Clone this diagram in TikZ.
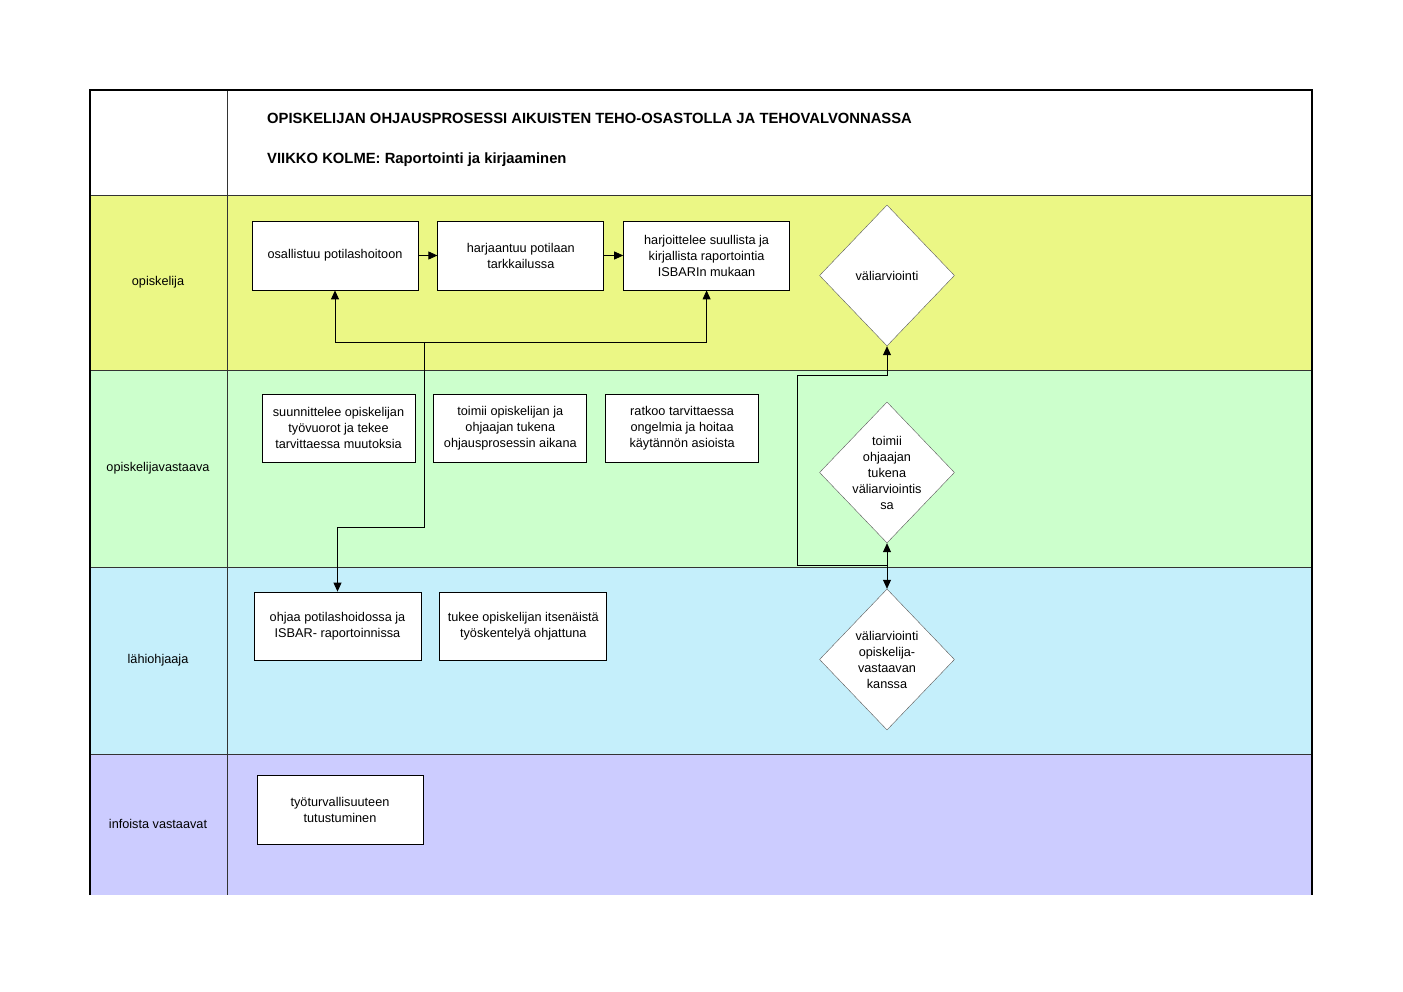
\documentclass[tikz,border=0pt]{standalone}
\usepackage{fontspec}
\setmainfont{Liberation Sans}
\usetikzlibrary{positioning,shapes.geometric,arrows.meta}
\definecolor{laneyellow}{RGB}{235,247,133}
\definecolor{lanegreen}{RGB}{204,255,204}
\definecolor{laneblue}{RGB}{197,239,251}
\definecolor{lanelilac}{RGB}{204,204,255}
\tikzset{
        >={Triangle[length=9pt,width=8pt]}, % filled arrow heads
        every node/.style={font=\fontsize{12.7}{16}\selectfont}, % Arial sized text
        task/.style={draw, thick, fill=white, align=center, inner sep=2pt, minimum width=166pt, minimum height=69pt},
        smalltask/.style={task, minimum width=153pt, minimum height=68pt},
        decision/.style={diamond, draw=gray!70!black, fill=white, inner sep=0pt, minimum width=135pt, minimum height=141pt},
        divider/.style={gray!40!black, line width=0.9pt},
        heading/.style={anchor=base west, inner sep=0pt, font=\fontsize{14.8}{18}\selectfont\bfseries},
    }
\begin{document}
\begin{tikzpicture}[x=1pt, y=-1pt]
    \useasboundingbox (0,0) rectangle (1403,992);
    % lanes
    \fill[white] (90,90) rectangle (1312,195);
    \fill[laneyellow] (90,195) rectangle (1312,370);
    \fill[lanegreen] (90,370) rectangle (1312,567);
    \fill[laneblue] (90,567) rectangle (1312,754);
    \fill[lanelilac] (90,754) rectangle (1312,895);
    \foreach \y in {195,370,567,754}
      \draw[divider] (90,\y) -- (1312,\y);
    \draw[divider] (227,90) -- (227,895);
    \draw[line width=1.2pt] (90,895) -- (90,90) -- (1312,90) -- (1312,895);
    % header
    \node[heading] (title) at (267,124) {OPISKELIJAN OHJAUSPROSESSI AIKUISTEN TEHO-OSASTOLLA JA TEHOVALVONNASSA};
    \node[heading] (week) at (267,164) {VIIKKO KOLME: Raportointi ja kirjaaminen};
    % lane names
    \node (opiskelija) at (158,282) {opiskelija};
    \node (vastaava) at (158,468) {opiskelijavastaava};
    \node (ohjaaja) at (158,660) {lähiohjaaja};
    \node (info) at (158,824) {infoista vastaavat};
    % opiskelija
    \node[task] (b1) at (335,255.5) {osallistuu potilashoitoon};
    \node[task, right=19pt of b1] (b2) {harjaantuu potilaan\\tarkkailussa};
    \node[task, right=19pt of b2] (b3) {harjoittelee suullista ja\\kirjallista raportointia\\ISBARIn mukaan};
    \node[decision] (d1) at (887,275.5) {};
    \node (d1t) at (d1) {väliarviointi};
    % opiskelijavastaava
    \node[smalltask] (c1) at (338.5,428) {suunnittelee opiskelijan\\työvuorot ja tekee\\tarvittaessa muutoksia};
    \node[smalltask, right=18pt of c1] (c2) {toimii opiskelijan ja\\ohjaajan tukena\\ohjausprosessin aikana};
    \node[smalltask, right=18pt of c2] (c3) {ratkoo tarvittaessa\\ongelmia ja hoitaa\\käytännön asioista};
    \node[decision] (d2) at (887,472.5) {};
    \node[align=center] (d2t) at (d2) {toimii\\ohjaajan\\tukena\\väliarviointis\\sa};
    % lahiohjaaja
    \node[task, minimum width=167pt, minimum height=68pt] (e1) at (337.5,626) {ohjaa potilashoidossa ja\\ISBAR- raportoinnissa};
    \node[task, minimum width=167pt, minimum height=68pt, right=18pt of e1] (e2) {tukee opiskelijan itsenäistä\\työskentelyä ohjattuna};
    \node[decision] (d3) at (887,659.5) {};
    \node[align=center] (d3t) at (d3) {väliarviointi\\opiskelija-\\vastaavan\\kanssa};
    % infoista vastaavat
    \node[task] (f1) at (340,809.5) {työturvallisuuteen\\tutustuminen};
    % connectors
    \coordinate (split) at (424,342);
    \coordinate (bend) at (424,527);
    \coordinate (junc) at (887,565);
    \coordinate (loop) at (797,375);
    \draw[thick, ->] (b1) -- (b2);
    \draw[thick, ->] (b2) -- (b3);
    \draw[thick, ->] (split) -| (b1.south);
    \draw[thick, ->] (split) -| (b3.south);
    \draw[thick, ->] (junc) -- (d2.south);
    \draw[thick, ->] (junc) -- (d3.north);
    \draw[thick, ->] (split) -- (bend) -| (e1.north);
    \draw[thick, ->] (junc) -| (loop) -| (d1.south);
\end{tikzpicture}
\end{document}
